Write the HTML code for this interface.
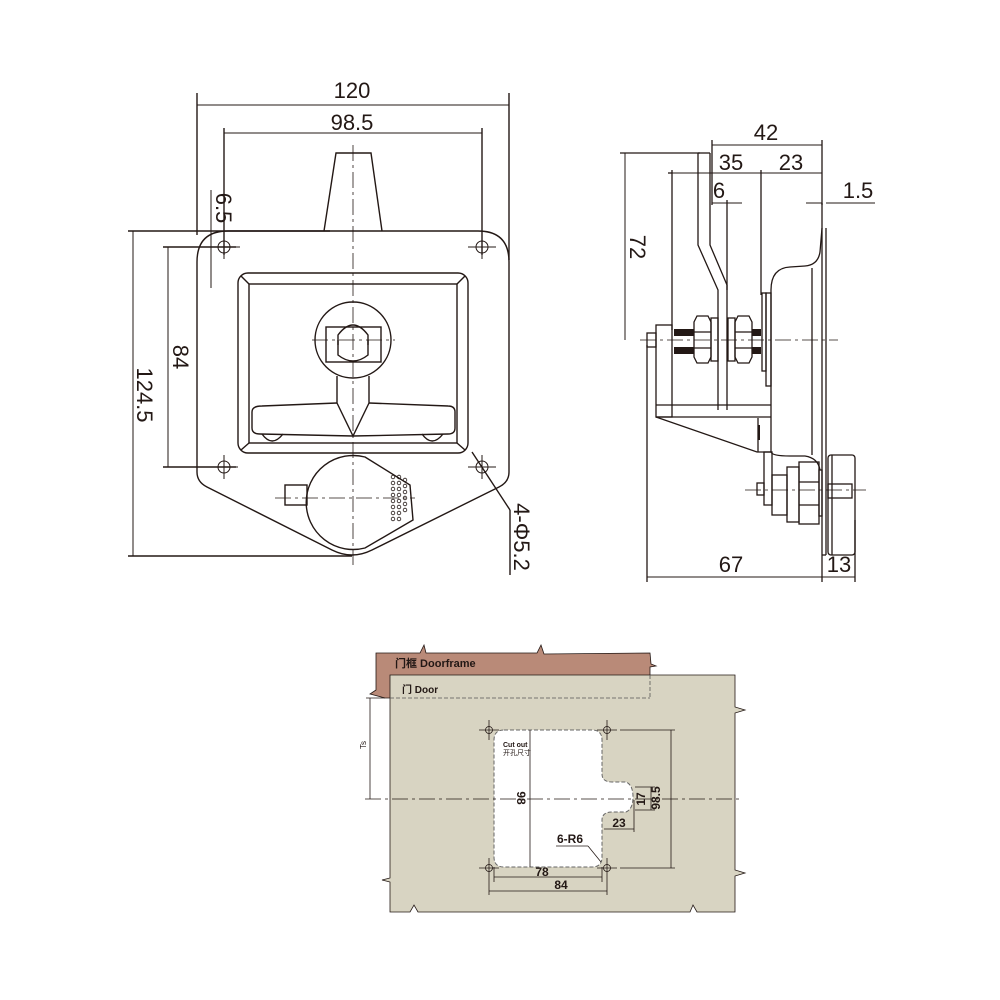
<!DOCTYPE html>
<html><head><meta charset="utf-8"><style>
html,body{margin:0;padding:0;background:#fff}
svg{display:block}
text{font-family:"Liberation Sans","Noto Sans CJK SC",sans-serif;fill:#231815}
</style></head><body>
<svg width="1000" height="1000" viewBox="0 0 1000 1000" xmlns="http://www.w3.org/2000/svg">
<g fill="none" stroke="#231815" stroke-width="1.4">
<line x1="197" y1="93" x2="197" y2="235"/><line x1="509" y1="93" x2="509" y2="260"/>
<line x1="197" y1="105" x2="509" y2="105" stroke-width="1"/>
<line x1="224" y1="128" x2="224" y2="255"/><line x1="482" y1="128" x2="482" y2="255"/>
<line x1="224" y1="133" x2="482" y2="133" stroke-width="1"/>
<line x1="128" y1="231" x2="330" y2="231"/><line x1="128" y1="556" x2="352" y2="556"/>
<line x1="133" y1="231" x2="133" y2="556" stroke-width="1"/>
<line x1="163" y1="247" x2="236" y2="247"/><line x1="163" y1="467" x2="236" y2="467"/>
<line x1="168" y1="247" x2="168" y2="467" stroke-width="1"/>
<line x1="211" y1="190" x2="211" y2="288" stroke-width="1"/>
<path d="M330,231 L478,231 Q509,231 509,262 L509,472 Q509,482 499,487 L372,550 Q352,560 332,550 L207,487 Q197,482 197,472 L197,262 Q197,231 228,231 Z"/>
<path d="M324,231 L336,153 L371,153 L382,231"/>
<g stroke-width="1">
<circle cx="224" cy="247" r="6"/><circle cx="482" cy="247" r="6"/><circle cx="224" cy="467" r="6"/><circle cx="482" cy="467" r="6"/>
<line x1="212" y1="247" x2="240" y2="247"/><line x1="224" y1="235" x2="224" y2="259"/>
<line x1="468" y1="247" x2="496" y2="247"/><line x1="482" y1="235" x2="482" y2="259"/>
<line x1="210" y1="467" x2="238" y2="467"/><line x1="224" y1="455" x2="224" y2="479"/>
<line x1="468" y1="467" x2="496" y2="467"/><line x1="482" y1="455" x2="482" y2="479"/>
</g>
<rect x="238" y="273" width="230" height="180" rx="10"/>
<rect x="249" y="284" width="208" height="159"/>
<line x1="241" y1="276" x2="249" y2="284"/><line x1="465" y1="276" x2="457" y2="284"/>
<line x1="241" y1="450" x2="249" y2="443"/><line x1="465" y1="450" x2="457" y2="443"/>
<circle cx="353" cy="340" r="38"/>
<rect x="326" y="327" width="55" height="35"/>
<path d="M338,340 L338,355 Q353,367 368,355 L368,340"/>
<path d="M338,345 L338,335 Q353,315 368,335 L368,345"/>
<path d="M337,376 L337,403 L353,436 L369,403 L369,376"/>
<path d="M337,403 L262,406 Q252,406 252,412 L252,428 Q252,434 260,434 L353,436 L448,434 Q455,434 455,428 L455,412 Q455,406 448,406 L369,403"/>
<path d="M262,434 Q272,448 283,434"/><path d="M422,434 Q432,448 443,434"/>
<path d="M365,457 L410,485 L413,520 L365,548 A47,47 0 1 1 365,457 Z"/>
<rect x="285" y="485" width="22" height="20"/>
<line x1="472" y1="452" x2="510" y2="510"/><line x1="510" y1="510" x2="510" y2="575"/>
</g>
<g fill="none" stroke="#231815" stroke-width="0.8">
<circle cx="393" cy="477" r="1.8"/><circle cx="399" cy="477" r="1.8"/><circle cx="405" cy="480" r="1.8"/>
<circle cx="393" cy="483" r="1.8"/><circle cx="399" cy="483" r="1.8"/><circle cx="405" cy="486" r="1.8"/>
<circle cx="393" cy="489" r="1.8"/><circle cx="399" cy="489" r="1.8"/><circle cx="405" cy="492" r="1.8"/>
<circle cx="393" cy="495" r="1.8"/><circle cx="399" cy="495" r="1.8"/><circle cx="405" cy="498" r="1.8"/>
<circle cx="393" cy="501" r="1.8"/><circle cx="399" cy="501" r="1.8"/><circle cx="405" cy="504" r="1.8"/>
<circle cx="393" cy="507" r="1.8"/><circle cx="399" cy="507" r="1.8"/><circle cx="405" cy="510" r="1.8"/>
<circle cx="393" cy="513" r="1.8"/><circle cx="399" cy="513" r="1.8"/><circle cx="393" cy="519" r="1.8"/><circle cx="399" cy="519" r="1.8"/>
<line x1="353" y1="145" x2="353" y2="565" stroke-dasharray="16,4,3,4"/>
<line x1="312" y1="340" x2="395" y2="340" stroke-dasharray="16,4,3,4"/>
<line x1="275" y1="498" x2="415" y2="498" stroke-dasharray="16,4,3,4"/>
</g>
<g font-size="22">
<text x="352" y="98" text-anchor="middle">120</text>
<text x="352" y="130" text-anchor="middle">98.5</text>
<text transform="translate(137,395) rotate(90)" text-anchor="middle">124.5</text>
<text transform="translate(173,357) rotate(90)" text-anchor="middle">84</text>
<text transform="translate(216,208) rotate(90)" text-anchor="middle">6.5</text>
<text transform="translate(514,537) rotate(90)" text-anchor="middle">4-Φ5.2</text>
</g>

<g fill="none" stroke="#231815" stroke-width="1.3">
<line x1="620" y1="153" x2="700" y2="153"/><line x1="625" y1="153" x2="625" y2="340" stroke-width="1"/>
<line x1="712" y1="140" x2="712" y2="205"/><line x1="712" y1="145" x2="822" y2="145" stroke-width="1"/>
<line x1="822" y1="140" x2="822" y2="205"/>
<line x1="672" y1="170" x2="672" y2="330"/><line x1="672" y1="173" x2="822" y2="173" stroke-width="1"/>
<line x1="761" y1="170" x2="761" y2="295"/>
<line x1="668" y1="173" x2="672" y2="173"/>
<line x1="712" y1="203" x2="742" y2="203" stroke-width="1"/><line x1="727" y1="200" x2="727" y2="290"/>
<line x1="806" y1="203" x2="822" y2="203" stroke-width="1"/><line x1="826" y1="203" x2="875" y2="203" stroke-width="1"/>
<line x1="647" y1="345" x2="647" y2="582"/><line x1="647" y1="577" x2="822" y2="577" stroke-width="1"/>
<line x1="822" y1="555" x2="822" y2="582"/><line x1="822" y1="577" x2="855" y2="577" stroke-width="1"/>
<line x1="855" y1="520" x2="855" y2="582"/>
<path d="M698,153 L698,245 L718,290 L718,410"/>
<path d="M710,153 L710,245 L727,285 L727,410"/>
<line x1="698" y1="153" x2="710" y2="153"/>
<rect x="656" y="325" width="16" height="92"/>
<rect x="647" y="333" width="9" height="14"/>
<line x1="656" y1="405" x2="771" y2="405"/><line x1="656" y1="417" x2="771" y2="417"/>
<path d="M656,417 L757,452 L771,452"/>
<path d="M697,316 L708,316 L711,322 L711,357 L708,363 L697,363 L694,357 L694,322 Z"/>
<line x1="694" y1="332" x2="711" y2="332"/><line x1="694" y1="348" x2="711" y2="348"/>
<rect x="711" y="318" width="7" height="43"/>
<path d="M738,316 L749,316 L752,322 L752,357 L749,363 L738,363 L735,357 L735,322 Z"/>
<line x1="735" y1="332" x2="752" y2="332"/><line x1="735" y1="348" x2="752" y2="348"/>
<rect x="728" y="318" width="7" height="43"/>
<rect x="762" y="293" width="4" height="78"/><rect x="766" y="293" width="5" height="93"/>
<path d="M771,452 L771,290 Q771,268 790,267 L805,266 Q818,265 820,252 L822,228"/>
<path d="M771,452 Q772,456 790,456 L805,456 Q818,458 820,470"/>
<line x1="812" y1="268" x2="812" y2="455"/>
<line x1="822" y1="203" x2="822" y2="555"/><line x1="826" y1="228" x2="826" y2="555"/>
<line x1="822" y1="555" x2="826" y2="555"/>
<line x1="758" y1="418" x2="758" y2="452"/>
<rect x="764" y="452" width="8" height="53"/>
<rect x="757" y="483" width="7" height="12"/>
<rect x="772" y="475" width="15" height="40"/>
<rect x="787" y="467" width="12" height="55"/>
<rect x="799" y="462" width="20" height="62"/>
<line x1="799" y1="482" x2="819" y2="482"/><line x1="799" y1="505" x2="819" y2="505"/>
<rect x="819" y="470" width="3" height="46"/>
<rect x="828" y="455" width="27" height="100" rx="3"/>
<line x1="832" y1="455" x2="832" y2="555"/>
<rect x="828" y="484" width="24" height="14"/>
</g>
<g fill="#231815">
<rect x="674" y="329" width="20" height="7"/><rect x="674" y="347" width="20" height="7"/>
<rect x="752" y="329" width="9" height="7"/><rect x="752" y="347" width="9" height="7"/>
<rect x="758" y="425" width="2" height="15"/>
</g>
<g stroke="#231815" stroke-width="0.8" fill="none">
<line x1="640" y1="340" x2="838" y2="340" stroke-dasharray="16,4,3,4"/>
<line x1="745" y1="490" x2="866" y2="490" stroke-dasharray="16,4,3,4"/>
</g>
<g font-size="22">
<text x="766" y="140" text-anchor="middle">42</text>
<text x="731" y="170" text-anchor="middle">35</text>
<text x="791" y="170" text-anchor="middle">23</text>
<text x="719" y="198" text-anchor="middle">6</text>
<text x="858" y="198" text-anchor="middle">1.5</text>
<text transform="translate(630,247) rotate(90)" text-anchor="middle">72</text>
<text x="731" y="572" text-anchor="middle">67</text>
<text x="839" y="572" text-anchor="middle">13</text>
</g>

<path d="M376,653 L420,653 L424,645 L426,653 L537,653 L541,645 L544,654 L650,653 L651,664 L656,666 L650,667 L650,698 L385,698 L370,694 L376,690 Z" fill="#b98a78" stroke="#231815" stroke-width="0.8"/>
<path d="M390,675 L735,675 L735,707 L745,710 L735,713 L735,870 L745,873 L735,876 L735,912 L697,912 L693,905 L690,912 L418,912 L414,905 L410,912 L390,912 L390,882 L382,880 L390,878 Z" fill="#d8d4c2" stroke="#231815" stroke-width="0.8"/>
<line x1="390" y1="698" x2="650" y2="698" stroke="#555" stroke-width="0.8" stroke-dasharray="4,2"/>
<line x1="650" y1="675" x2="650" y2="698" stroke="#555" stroke-width="0.8" stroke-dasharray="4,2"/>
<path d="M504,730 L592,730 Q602,730 602,740 L602,774 Q602,782 612,782 L626,782 Q633,785 633,797 Q633,809 626,812 L612,812 Q602,812 602,820 L602,857 Q602,867 592,867 L504,867 Q494,867 494,857 L494,740 Q494,730 504,730 Z" fill="#fff" stroke="#666" stroke-width="1" stroke-dasharray="4,2"/>
<g stroke="#231815" stroke-width="0.8" fill="none">
<circle cx="489" cy="730" r="3.5"/><circle cx="607" cy="730" r="3.5"/><circle cx="489" cy="868" r="3.5"/><circle cx="607" cy="868" r="3.5"/>
<line x1="479" y1="730" x2="499" y2="730"/><line x1="489" y1="720" x2="489" y2="740"/>
<line x1="597" y1="730" x2="617" y2="730"/><line x1="607" y1="720" x2="607" y2="740"/>
<line x1="479" y1="868" x2="499" y2="868"/><line x1="489" y1="858" x2="489" y2="895"/>
<line x1="597" y1="868" x2="617" y2="868"/><line x1="607" y1="858" x2="607" y2="895"/>
<line x1="620" y1="730" x2="675" y2="730"/><line x1="620" y1="868" x2="675" y2="868"/>
<line x1="671" y1="730" x2="671" y2="868"/>
<line x1="530" y1="730" x2="530" y2="867"/>
<line x1="635" y1="787" x2="655" y2="787"/><line x1="635" y1="810" x2="655" y2="810"/>
<line x1="651" y1="787" x2="651" y2="810"/>
<line x1="604" y1="829" x2="634" y2="829"/><line x1="634" y1="800" x2="634" y2="832"/>
<line x1="494" y1="877" x2="602" y2="877"/><line x1="494" y1="867" x2="494" y2="882"/><line x1="602" y1="867" x2="602" y2="882"/>
<line x1="489" y1="891" x2="607" y2="891"/>
<line x1="366" y1="698" x2="385" y2="698"/><line x1="370" y1="698" x2="370" y2="799"/>
<line x1="556" y1="846" x2="588" y2="846"/><line x1="588" y1="846" x2="601" y2="862"/>
<line x1="365" y1="799" x2="740" y2="799" stroke-dasharray="16,4,3,4"/>
</g>
<g>
<text x="395" y="667" font-size="11" font-weight="bold" fill="#2a1a14">门框 Doorframe</text>
<text x="402" y="693" font-size="10" font-weight="bold">门 Door</text>
<text x="503" y="747" font-size="7" font-weight="bold">Cut out</text>
<text x="503" y="755" font-size="7" fill="#555">开孔尺寸</text>
<text transform="translate(517,798) rotate(90)" font-size="12" text-anchor="middle" font-weight="bold">98</text>
<text transform="translate(660,798) rotate(-90)" font-size="12" text-anchor="middle" font-weight="bold">98.5</text>
<text transform="translate(645,799) rotate(-90)" font-size="12" text-anchor="middle" font-weight="bold">17</text>
<text x="619" y="827" font-size="12" text-anchor="middle" font-weight="bold">23</text>
<text x="570" y="843" font-size="12" text-anchor="middle" font-weight="bold">6-R6</text>
<text x="542" y="876" font-size="12" text-anchor="middle" font-weight="bold">78</text>
<text x="561" y="889" font-size="12" text-anchor="middle" font-weight="bold">84</text>
<text transform="translate(366,745) rotate(-90)" font-size="8" text-anchor="middle">Ts</text>
</g>
</svg>
</body></html>
